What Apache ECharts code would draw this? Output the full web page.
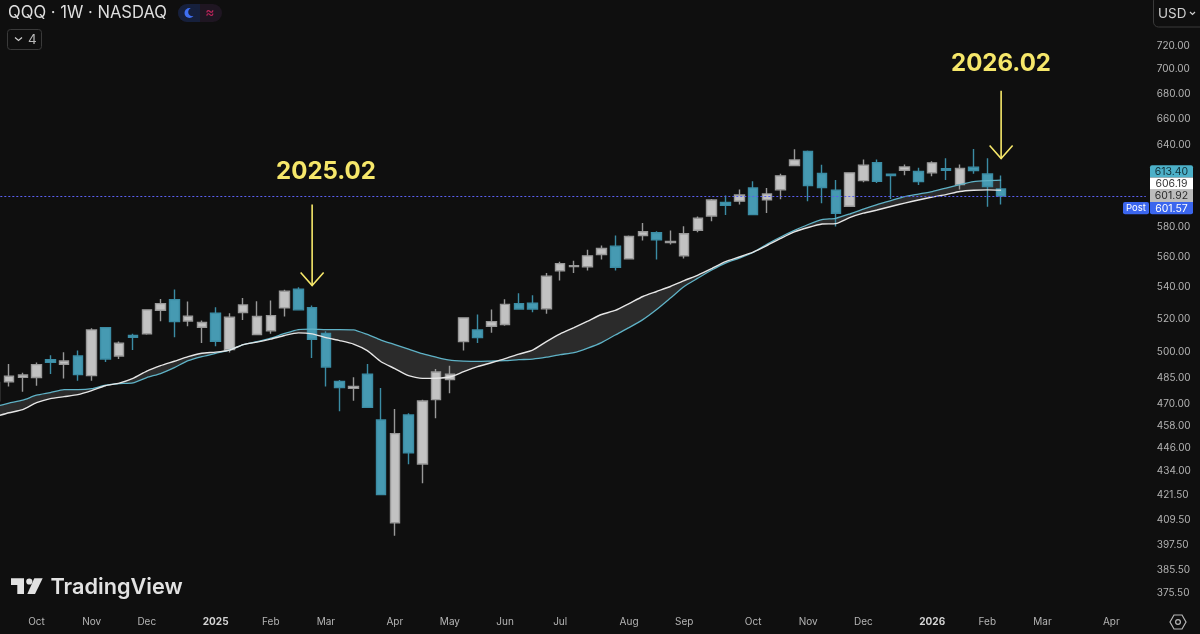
<!DOCTYPE html>
<html lang="en">
<head>
<meta charset="UTF-8">
<title>QQQ 1W</title>
<script src="https://cdn.jsdelivr.net/npm/echarts@6/dist/echarts.min.js"></script>
<style>
    * { padding: 0; margin: 0; }
    html, body { width: 1200px; height: 634px; background: #0f0f0f; overflow: hidden; }
    #chart { width: 1200px; height: 634px; }
</style>
</head>
<body>
<div id="chart"></div>
<script>
// weekly bars, first one is the half-hidden week at the left edge
var firstWeek = Date.UTC(2024, 8, 9);
var weekCount = 84;

// [open, close, low, high]
var candles = [
    [471.8, 482.1, 469.6, 484.4], [482.6, 485.7, 479.8, 492.9], [485.1, 486.5, 476.9, 487.7], [485.0, 492.5, 480.3, 493.8],
    [495.4, 493.8, 487.1, 498.0], [492.7, 494.6, 484.5, 499.8], [497.6, 486.7, 483.2, 500.8], [486.1, 513.3, 483.2, 514.3],
    [514.7, 495.8, 494.0, 514.9], [497.6, 505.2, 495.8, 506.2], [509.9, 508.8, 501.2, 510.9], [510.9, 525.7, 510.3, 526.1],
    [525.4, 529.6, 518.6, 532.6], [532.1, 518.4, 508.8, 538.5], [518.8, 521.7, 515.5, 530.9], [514.9, 517.8, 505.4, 519.0],
    [523.6, 506.4, 503.4, 527.3], [501.4, 521.1, 499.6, 523.6], [524.0, 528.8, 519.4, 533.2], [510.5, 521.5, 510.3, 531.1],
    [512.7, 522.1, 510.9, 531.5], [526.9, 537.5, 521.5, 538.4], [538.7, 525.7, 525.3, 540.0], [527.1, 507.6, 496.4, 528.4],
    [511.2, 491.1, 479.9, 512.5], [482.8, 479.2, 465.9, 483.6], [478.8, 479.9, 471.8, 485.1], [486.9, 468.1, 467.9, 492.9],
    [461.1, 421.9, 421.9, 479.0], [408.0, 453.7, 401.8, 467.2], [463.9, 443.5, 437.4, 464.8], [437.6, 471.6, 427.6, 472.4],
    [472.4, 488.2, 462.0, 490.0], [483.8, 486.9, 476.0, 491.9], [506.2, 520.7, 500.8, 521.1], [513.3, 508.6, 505.4, 522.8],
    [515.5, 518.4, 511.5, 525.9], [516.6, 529.1, 515.8, 532.3], [529.6, 526.2, 525.7, 536.2], [529.8, 526.2, 524.2, 534.9],
    [526.3, 547.1, 523.3, 549.3], [550.7, 555.4, 544.3, 556.7], [553.5, 554.1, 549.3, 557.4], [553.3, 560.6, 550.9, 564.6],
    [561.5, 565.5, 558.1, 567.5], [567.1, 553.0, 550.9, 574.3], [558.6, 573.6, 558.1, 574.3], [574.3, 576.9, 570.9, 583.0],
    [576.2, 571.4, 558.1, 577.3], [569.6, 570.2, 568.2, 577.8], [560.6, 575.5, 558.9, 580.7], [577.9, 586.2, 576.6, 587.4],
    [587.8, 599.1, 584.1, 599.9], [597.3, 595.4, 588.6, 602.3], [598.3, 602.7, 595.9, 606.6], [607.8, 588.8, 588.8, 612.6],
    [599.2, 603.5, 590.0, 607.8], [606.4, 616.6, 599.6, 618.1], [624.2, 628.4, 624.0, 636.4], [634.7, 609.5, 598.2, 635.5],
    [618.3, 608.1, 596.8, 624.7], [606.1, 589.7, 580.5, 613.6], [594.7, 618.8, 594.5, 618.8], [613.1, 624.4, 611.9, 628.7],
    [626.4, 612.6, 611.4, 628.7], [617.8, 616.8, 599.9, 617.8], [620.7, 623.2, 617.0, 624.9], [619.8, 612.4, 610.0, 622.5],
    [618.8, 626.2, 616.3, 627.4], [621.8, 620.7, 613.6, 629.6], [610.2, 622.0, 606.6, 624.9], [623.0, 620.5, 618.1, 636.7],
    [618.0, 608.8, 594.3, 629.6], [607.0, 601.9, 595.9, 616.8]
];

var slowAvg = [
    468.5, 470.4, 472.1, 474.9, 476.4, 478.1, 478.1, 478.6, 480.6, 481.5, 481.9, 485.0, 487.3, 490.8, 494.8, 497.2, 499.2, 501.1,
    504.4, 506.2, 508.3, 511.1, 513.5, 513.8, 513.5, 513.5, 513.3, 510.5, 507.1, 504.4, 501.7, 499.0, 496.9, 495.1, 494.6, 494.4,
    494.6, 494.8, 495.4, 495.8, 496.9, 498.4, 499.6, 502.3, 505.6, 510.2, 514.7, 519.6, 525.9, 533.1, 540.5, 545.9, 551.2, 555.8,
    559.1, 562.8, 568.4, 573.3, 577.8, 581.9, 585.3, 586.2, 589.2, 592.7, 595.9, 598.7, 601.6, 603.4, 605.2, 607.7, 610.2, 612.4,
    613.1, 613.4
];

var fastAvg = [
    462.9, 465.1, 466.8, 470.7, 473.0, 474.1, 475.2, 477.5, 480.3, 481.8, 484.5, 488.7, 491.9, 494.5, 497.2, 499.2, 499.9, 501.1,
    504.4, 505.9, 507.7, 509.9, 511.5, 510.9, 508.6, 506.8, 504.7, 500.8, 494.2, 490.2, 486.1, 484.5, 484.6, 485.3, 488.4, 491.3,
    493.6, 496.0, 498.7, 501.1, 506.2, 510.9, 514.7, 518.7, 522.8, 525.3, 529.6, 534.1, 537.3, 540.5, 544.3, 547.9, 552.2, 556.7,
    559.8, 563.1, 567.5, 572.3, 576.8, 579.8, 582.2, 582.5, 586.7, 589.8, 592.0, 594.5, 596.9, 599.1, 601.2, 603.0, 605.2, 606.1,
    606.4, 606.19
];

var priceTicks = [720, 700, 680, 660, 640, 580, 560, 540, 520, 500, 485, 470, 458, 446, 434, 421.5, 409.5, 397.5, 385.5, 375.5];
var monthTickWeeks = [3, 7, 11, 16, 20, 24, 29, 33, 37, 41, 46, 50, 55, 59, 63, 68, 72, 76, 81];
var monthTickLabels = ['Oct', 'Nov', 'Dec', '2025', 'Feb', 'Mar', 'Apr', 'May', 'Jun', 'Jul', 'Aug', 'Sep', 'Oct', 'Nov', 'Dec', '2026', 'Feb', 'Mar', 'Apr'];

var lastPrice = 601.92;
var priceTags = [
    { text: '613.40', bg: '#4cb0c8', fg: '#123038' },
    { text: '606.19', bg: '#ffffff', fg: '#333333' },
    { text: '601.92', bg: '#bcbcbc', fg: '#2a2a2a' },
    { text: '601.57', bg: '#3b66ee', fg: '#ffffff' }
];

var arrowWeeks = [23, 73];
var arrowFrom = [595.9, 682.4];
var arrowTo = [541.1, 629.4];

var categories = [];
for (var n = 0; n < weekCount; n++) {
    categories.push(new Date(firstWeek + n * 7 * 864e5).toISOString().slice(0, 10));
}

var UI_FONT = 'Inter, "Noto Sans", sans-serif';
var YELLOW = '#f6e76a';

function renderBand(params, api) {
    if (params.dataIndex !== 0) return null;
    var pts = [];
    for (var i = 0; i < slowAvg.length; i++) pts.push(api.coord([i, slowAvg[i]]));
    for (var j = fastAvg.length - 1; j >= 0; j--) pts.push(api.coord([j, fastAvg[j]]));
    return { type: 'polygon', shape: { points: pts }, style: { fill: '#2b2b2b' } };
}

function renderArrow(params, api) {
    var top = api.coord([api.value(0), api.value(1)]);
    var tip = api.coord([api.value(0), api.value(2)]);
    var style = { stroke: YELLOW, lineWidth: 1.6, fill: null };
    return {
        type: 'group',
        children: [
            { type: 'line', shape: { x1: top[0], y1: top[1], x2: tip[0], y2: tip[1] }, style: style },
            { type: 'polyline', shape: { points: [[tip[0] - 11.5, tip[1] - 13], [tip[0], tip[1]], [tip[0] + 11.5, tip[1] - 13]] }, style: style }
        ]
    };
}

function uiText(x, y, text, size, color, extra) {
    return {
        type: 'text', x: x, y: y, z: 20,
        style: Object.assign({ text: text, fontFamily: UI_FONT, fontSize: size, fill: color, verticalAlign: 'middle' }, extra || {})
    };
}

function uiBox(x, y, w, h, fill, stroke, r) {
    return {
        type: 'rect', z: 19,
        shape: { x: x, y: y, width: w, height: h, r: r },
        style: { fill: fill, stroke: stroke, lineWidth: stroke ? 1 : 0 }
    };
}

function uiLine(points, color, width) {
    return { type: 'polyline', z: 20, shape: { points: points }, style: { stroke: color, lineWidth: width, fill: null } };
}

var graphics = [
    // header
    uiText(8, 13, 'QQQ · 1W · NASDAQ', 16.6, '#dedede'),
    uiBox(178, 4, 44, 18, '#1f1622', null, 9),
    uiBox(178, 4, 22, 18, '#16203c', null, [9, 0, 0, 9]),
    { type: 'circle', z: 20, shape: { cx: 189.5, cy: 13, r: 5 }, style: { fill: '#3f6ff2' } },
    { type: 'circle', z: 21, shape: { cx: 192.5, cy: 12, r: 4.3 }, style: { fill: '#16203c' } },
    uiText(210, 13, '≈', 14, '#c2255c', { align: 'center' }),
    uiBox(7.5, 29.5, 34, 20, 'transparent', '#3a3a3a', 3),
    uiLine([[15, 37.5], [18.5, 40.5], [22, 37.5]], '#cfcfcf', 1.2),
    uiText(28, 40, '4', 13.5, '#b8b8b8'),
    uiBox(1153.5, -4, 60, 31, 'transparent', '#3a3a3a', 5),
    uiText(1158, 13.5, 'USD', 13.5, '#d0d0d0'),
    uiLine([[1190, 12], [1192.5, 14.5], [1195, 12]], '#cfcfcf', 1.2),
    // annotations
    uiText(326, 172, '2025.02', 24, YELLOW, { align: 'center', fontWeight: 'bold' }),
    uiText(1001, 64, '2026.02', 24, YELLOW, { align: 'center', fontWeight: 'bold' }),
    // watermark
    { type: 'polygon', z: 20, shape: { points: [[11, 578.3], [24, 578.3], [24, 594], [17.3, 594], [17.3, 585], [11, 585]] }, style: { fill: '#e2e2e2' } },
    { type: 'circle', z: 20, shape: { cx: 29.3, cy: 581.5, r: 3.1 }, style: { fill: '#e2e2e2' } },
    { type: 'polygon', z: 20, shape: { points: [[34.3, 578.3], [42.7, 578.3], [35, 594], [27.3, 594]] }, style: { fill: '#e2e2e2' } },
    uiText(50.5, 587, 'TradingView', 21.7, '#e2e2e2', { fontWeight: 600 }),
    // settings hexagon
    { type: 'polygon', z: 20, shape: { points: [[1170, 622], [1174, 615], [1182, 615], [1186, 622], [1182, 629], [1174, 629]] }, style: { fill: 'transparent', stroke: '#b8b8b8', lineWidth: 1.2 } },
    { type: 'circle', z: 20, shape: { cx: 1178, cy: 622, r: 2.4 }, style: { fill: 'transparent', stroke: '#b8b8b8', lineWidth: 1.2 } },
    // Post badge
    uiBox(1123, 202, 26, 12.3, '#3b66ee', null, 2),
    uiText(1136, 208.3, 'Post', 9.5, '#ffffff', { align: 'center' })
];

// last-price tags are stacked, so they sit apart from their true y
priceTags.forEach(function (tag, i) {
    var top = 165.3 + i * 12.25;
    graphics.push(uiBox(1150, top, 43, 12.25, tag.bg, null, i === 0 ? [2, 2, 0, 0] : i === 3 ? [0, 0, 2, 2] : 0));
    graphics.push(uiText(1171.5, top + 6.3, tag.text, 10.5, tag.fg, { align: 'center' }));
});

var chart = echarts.init(document.getElementById('chart'), null, { renderer: 'canvas' });
chart.setOption({
    animation: false,
    backgroundColor: '#0f0f0f',
    textStyle: { fontFamily: UI_FONT },
    // v6 squeezes the grid back into the canvas unless this is off
    grid: { left: -11.69, top: 0.6, width: 1157.5, height: 605, outerBoundsMode: 'none' },
    xAxis: {
        type: 'category',
        data: categories,
        boundaryGap: true,
        axisLine: { show: false },
        axisTick: { show: false },
        splitLine: { show: false },
        axisLabel: {
            margin: 11,
            fontSize: 10,
            color: '#b4b4b4',
            fontFamily: UI_FONT,
            interval: function (index) { return monthTickWeeks.indexOf(index) >= 0; },
            formatter: function (value, index) {
                var text = monthTickLabels[monthTickWeeks.indexOf(index)] || '';
                return /^\d+$/.test(text) ? '{y|' + text + '}' : text;
            },
            rich: { y: { fontWeight: 'bold', fontSize: 10, color: '#d4d4d4', fontFamily: UI_FONT } }
        }
    },
    yAxis: {
        type: 'log',
        logBase: 10,
        position: 'right',
        min: 369.7,
        max: 759.6,
        axisLine: { show: false },
        axisTick: { show: false },
        splitLine: { show: false },
        minorTick: { show: false },
        axisLabel: {
            customValues: priceTicks,
            margin: 11,
            fontSize: 10,
            color: '#b4b4b4',
            fontFamily: UI_FONT,
            formatter: function (value) { return Number(value).toFixed(2); }
        }
    },
    series: [
        {
            type: 'custom',
            name: 'band',
            z: 1,
            renderItem: renderBand,
            data: [[0, slowAvg[0]]],
            encode: { x: 0, y: 1 },
            silent: true
        },
        {
            type: 'candlestick',
            name: 'QQQ',
            z: 2,
            barWidth: 10,
            data: candles,
            itemStyle: {
                color: '#c2c2c2',
                color0: '#469ab2',
                borderColor: '#989898',
                borderColor0: '#3b8ca4',
                borderWidth: 1.4
            },
            markLine: {
                silent: true,
                symbol: 'none',
                label: { show: false },
                lineStyle: { color: '#5a60f0', type: [2, 2], width: 1.2, opacity: 1 },
                data: [{ yAxis: lastPrice }]
            }
        },
        {
            type: 'line',
            name: 'slow',
            z: 3,
            data: slowAvg,
            showSymbol: false,
            smooth: 0.2,
            lineStyle: { color: '#5fb2c6', width: 1.3 }
        },
        {
            type: 'line',
            name: 'fast',
            z: 4,
            data: fastAvg,
            showSymbol: false,
            smooth: 0.2,
            lineStyle: { color: '#e6e6e6', width: 1.4 }
        },
        {
            type: 'custom',
            name: 'arrows',
            z: 5,
            renderItem: renderArrow,
            data: arrowWeeks.map(function (w, i) { return [w, arrowFrom[i], arrowTo[i]]; }),
            encode: { x: 0, y: [1, 2] },
            silent: true
        }
    ],
    graphic: graphics
});
</script>
</body>
</html>
